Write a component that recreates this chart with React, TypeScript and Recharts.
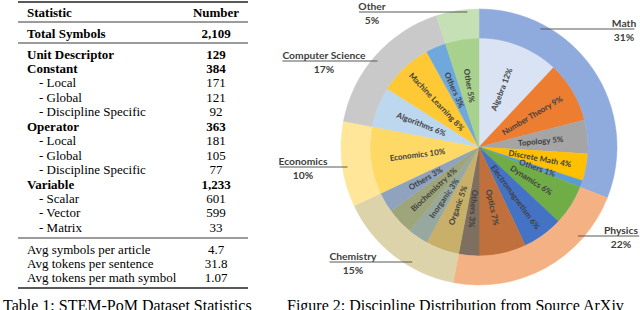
import { PieChart, Pie, Cell } from 'recharts'

// ---- table data ----
const statHeader = ['Statistic', 'Number']
const totalLabel = 'Total Symbols'
const totalValue = '2,109'
const typeLabels = ['Unit Descriptor', 'Constant', '- Local', '- Global', '- Discipline Specific', 'Operator', '- Local', '- Global', '- Discipline Specific', 'Variable', '- Scalar', '- Vector', '- Matrix']
const typeValues = ['129', '384', '171', '121', '92', '363', '181', '105', '77', '1,233', '601', '599', '33']
const avgLabels = ['Avg symbols per article', 'Avg tokens per sentence', 'Avg tokens per math symbol']
const avgValues = ['4.7', '31.8', '1.07']

// ---- pie data ----
const disciplines = ['Math', 'Physics', 'Chemistry', 'Economics', 'Computer Science', 'Other']
const disciplineShare = [31, 22, 15, 10, 17, 5]
const disciplineColors = ['#8FAADC', '#F4B183', '#DCD3AB', '#FFE699', '#C9C9C9', '#C5E0B4']

const subfields = ['Algebra', 'Number Theory', 'Topology', 'Discrete Math', 'Others', 'Dynamics', 'Electromagnetism', 'Optics', 'Others', 'Organic', 'Inorganic', 'Biochemistry', 'Others', 'Economics', 'Algorithms', 'Machine Learning', 'Others', 'Other']
const subfieldShare = [12, 9, 5, 4, 1, 6, 6, 7, 3, 5, 3, 4, 3, 10, 6, 8, 3, 5]
const subfieldColors = ['#DAE3F3', '#ED7D31', '#A5A5A5', '#FFC000', '#5B9BD5', '#70AD47', '#4472C4', '#C0703C', '#7F6F60', '#C8B06A', '#97A8A0', '#9EA57A', '#8FA3BF', '#FFD966', '#BDD7EE', '#FFC935', '#6FA8DC', '#A9D18E']

// where the discipline callouts sit, relative to pie centre (x of text centre, y of leader line)
const calloutSpots = [[145, -118], [142, 89], [-126, 115], [-176, 20], [-155, -86], [-107, -135]]

const disciplineData = disciplines.map((name, i) => ({ name, value: disciplineShare[i] }))
const subfieldData = subfields.map((name, i) => ({ name, value: subfieldShare[i] }))

const RAD = Math.PI / 180
const labelFont = 'Lato, "Open Sans", sans-serif'
const serif = '"Liberation Serif", "Times New Roman", serif'

const renderInnerLabel = (props: any) => {
  const { cx, cy, midAngle, index } = props
  const r = 62
  const x = cx + r * Math.cos(-midAngle * RAD)
  const y = cy + r * Math.sin(-midAngle * RAD)
  let rot = -midAngle
  while (rot < -90) rot += 360
  if (rot > 100) rot -= 180
  return (
    <text
      x={x}
      y={y}
      dy="0.35em"
      textAnchor="middle"
      transform={`rotate(${rot} ${x} ${y})`}
      fontFamily={labelFont}
      fontWeight={700}
      fontSize={8}
      fill="#404040"
    >
      {`${subfields[index]} ${subfieldShare[index]}%`}
    </text>
  )
}

const renderOuterLabel = (props: any) => {
  const { cx, cy, index } = props
  const [dx, dy] = calloutSpots[index]
  const name = disciplines[index]
  const tx = cx + dx
  const ly = cy + dy
  const right = dx > 0
  const half = name.length * 2.6
  const r = Math.max(133, Math.abs(dy) + 0.5)
  const ringX = cx + (right ? 1 : -1) * Math.sqrt(r * r - dy * dy)
  const outerX = tx + (right ? half : -half)
  return (
    <g>
      <line x1={ringX} y1={ly} x2={outerX} y2={ly} stroke="#595959" strokeWidth={1} />
      <text x={tx} y={ly - 2.5} textAnchor="middle" fontFamily={labelFont} fontWeight={700} fontSize={10.3} fill="#404040">
        {name}
      </text>
      <text x={tx} y={ly + 11.5} textAnchor="middle" fontFamily={labelFont} fontWeight={700} fontSize={10.3} fill="#404040">
        {`${disciplineShare[index]}%`}
      </text>
    </g>
  )
}

function StatsTable() {
  const left = 27
  const indent = 39
  const numX = 216
  const rowStep = 14.45
  const firstRow = 58.5
  return (
    <svg width={640} height={310} style={{ position: 'absolute', left: 0, top: 0 }}>
      <line x1={18} x2={248} y1={2} y2={2} stroke="#222" strokeWidth={1.4} />
      <text x={left} y={16.5} fontFamily={serif} fontWeight={700} fontSize={13}>{statHeader[0]}</text>
      <text x={numX} y={16.5} fontFamily={serif} fontWeight={700} fontSize={13} textAnchor="middle">{statHeader[1]}</text>
      <line x1={18} x2={248} y1={22} y2={22} stroke="#222" strokeWidth={0.9} />
      <text x={left} y={37.5} fontFamily={serif} fontWeight={700} fontSize={13}>{totalLabel}</text>
      <text x={numX} y={37.5} fontFamily={serif} fontWeight={700} fontSize={13} textAnchor="middle">{totalValue}</text>
      <line x1={18} x2={248} y1={43} y2={43} stroke="#222" strokeWidth={0.9} />
      {typeLabels.map((label, i) => {
        const sub = label.startsWith('-')
        const y = firstRow + i * rowStep
        return (
          <g key={i}>
            <text x={sub ? indent : left} y={y} fontFamily={serif} fontWeight={sub ? 400 : 700} fontSize={13}>{label}</text>
            <text x={numX} y={y} fontFamily={serif} fontWeight={sub ? 400 : 700} fontSize={13} textAnchor="middle">{typeValues[i]}</text>
          </g>
        )
      })}
      <line x1={18} x2={248} y1={238} y2={238} stroke="#222" strokeWidth={0.9} />
      {avgLabels.map((label, i) => (
        <g key={i}>
          <text x={left} y={253.5 + i * 14} fontFamily={serif} fontSize={13}>{label}</text>
          <text x={numX} y={253.5 + i * 14} fontFamily={serif} fontSize={13} textAnchor="middle">{avgValues[i]}</text>
        </g>
      ))}
      <line x1={18} x2={248} y1={288} y2={288} stroke="#222" strokeWidth={1.4} />
      <text x={3} y={311} fontFamily={serif} fontSize={16}>Table 1: STEM-PoM Dataset Statistics</text>
      <text x={287} y={311} fontFamily={serif} fontSize={16}>Figure 2: Discipline Distribution from Source ArXiv</text>
    </svg>
  )
}

export default function App() {
  return (
    <div style={{ position: 'relative', width: 640, height: 310, overflow: 'hidden', background: '#fff' }}>
      <style>{'body{margin:0}'}</style>
      <StatsTable />
      <div style={{ position: 'absolute', left: 270, top: 0 }}>
        <PieChart width={370} height={310} margin={{ top: 0, right: 0, bottom: 0, left: 0 }}>
          <Pie
            data={subfieldData}
            dataKey="value"
            cx={209}
            cy={147}
            innerRadius={0}
            outerRadius={109}
            startAngle={90}
            endAngle={-270}
            label={renderInnerLabel}
            labelLine={false}
            isAnimationActive={false}
          >
            {subfieldData.map((d, i) => (
              <Cell key={`sub-${i}`} fill={subfieldColors[i]} stroke={subfieldColors[i]} strokeWidth={0.5} />
            ))}
          </Pie>
          <Pie
            data={disciplineData}
            dataKey="value"
            cx={209}
            cy={147}
            innerRadius={109}
            outerRadius={138}
            startAngle={90}
            endAngle={-270}
            label={renderOuterLabel}
            labelLine={false}
            isAnimationActive={false}
          >
            {disciplineData.map((d, i) => (
              <Cell key={`disc-${i}`} fill={disciplineColors[i]} stroke={disciplineColors[i]} strokeWidth={0.5} />
            ))}
          </Pie>
        </PieChart>
      </div>
    </div>
  )
}
